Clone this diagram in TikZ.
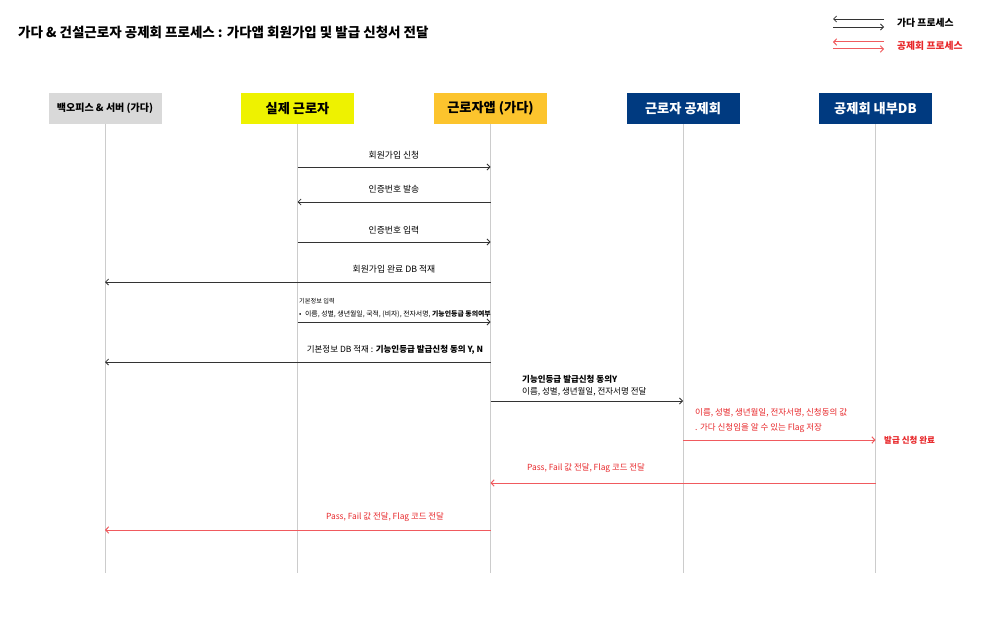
\documentclass[tikz,border=0pt]{standalone}
\usepackage{fontspec}
\setmainfont{Noto Sans CJK KR}
\usetikzlibrary{arrows.meta}
\definecolor{boxgray}{HTML}{D9D9D9}
\definecolor{boxyellow}{HTML}{EEF200}
\definecolor{boxorange}{HTML}{FCC42D}
\definecolor{navy}{HTML}{003A80}
\definecolor{lifegray}{HTML}{CCCCCC}
\definecolor{msgdark}{HTML}{333333}
\definecolor{redline}{HTML}{F05A5E}
\definecolor{redtext}{HTML}{E8272A}
\tikzset{
  hdr/.style={minimum width=113pt, minimum height=31pt, inner sep=0pt, font=\bfseries\fontsize{13.2}{15}\selectfont},
  life/.style={draw=lifegray, line width=0.8pt},
  msg/.style={draw=msgdark, line width=0.8pt, -{Straight Barb[length=3pt,width=6pt]}},
  redmsg/.style={draw=redline, line width=1pt, -{Straight Barb[length=3pt,width=6.5pt]}},
  lbl/.style={inner sep=0pt, font=\fontsize{8.8}{10}\selectfont, text=black},
  redlbl/.style={inner sep=0pt, font=\fontsize{8.4}{10}\selectfont, text=redtext},
}
\begin{document}
\begin{tikzpicture}[x=1pt,y=-1pt]
\useasboundingbox (0,0) rectangle (1000,618);
\fill[white] (0,0) rectangle (1000,618);

% title
\node[anchor=west, inner sep=0pt, font=\bfseries\fontsize{13.5}{15}\selectfont] (title) at (18,32) {가다 \& 건설근로자 공제회 프로세스 : 가다앱 회원가입 및 발급 신청서 전달};

% legend
\coordinate (lg1a) at (833,19); \coordinate (lg1b) at (884,19);
\coordinate (lg2a) at (833,27); \coordinate (lg2b) at (884,27);
\coordinate (lg3a) at (833,42); \coordinate (lg3b) at (884,42);
\coordinate (lg4a) at (833,49); \coordinate (lg4b) at (884,49);
\draw[msg] (lg1b) -- (lg1a);
\draw[msg] (lg2a) -- (lg2b);
\draw[redmsg] (lg3b) -- (lg3a);
\draw[redmsg] (lg4a) -- (lg4b);
\node[anchor=west, inner sep=0pt, font=\bfseries\fontsize{9.8}{11}\selectfont] (lgt1) at (897,23) {가다 프로세스};
\node[anchor=west, inner sep=0pt, font=\bfseries\fontsize{9.8}{11}\selectfont, text=redtext] (lgt2) at (897,45.5) {공제회 프로세스};

% headers
\node[hdr, fill=boxgray, font=\bfseries\fontsize{10}{11}\selectfont] (h1) at (105,108.5) {백오피스 \& 서버 (가다)};
\node[hdr, fill=boxyellow] (h2) at (297.5,108.5) {실제 근로자};
\node[hdr, fill=boxorange] (h3) at (490.5,108.5) {근로자앱 (가다)};
\node[hdr, fill=navy, text=white] (h4) at (683,108.5) {근로자 공제회};
\node[hdr, fill=navy, text=white] (h5) at (875.5,108.5) {공제회 내부DB};

% lifelines
\foreach \i in {1,...,5} {
  \coordinate (e\i) at (h\i.south |- 0,573);
  \draw[life] (h\i.south) -- (e\i);
}

% message 1
\coordinate (m1a) at (h2 |- 0,167); \coordinate (m1b) at (h3 |- 0,167);
\draw[msg] (m1a) -- (m1b);
\node[lbl] (t1) at (394,155) {회원가입 신청};
% message 2
\coordinate (m2a) at (h3 |- 0,202); \coordinate (m2b) at (h2 |- 0,202);
\draw[msg] (m2a) -- (m2b);
\node[lbl] (t2) at (394,189.5) {인증번호 발송};
% message 3
\coordinate (m3a) at (h2 |- 0,242); \coordinate (m3b) at (h3 |- 0,242);
\draw[msg] (m3a) -- (m3b);
\node[lbl] (t3) at (394,230) {인증번호 입력};
% message 4
\coordinate (m4a) at (h3 |- 0,282); \coordinate (m4b) at (h1 |- 0,282);
\draw[msg] (m4a) -- (m4b);
\node[lbl] (t4) at (394,269.5) {회원가입 완료 DB 적재};
% message 5
\node[anchor=west, inner sep=0pt, font=\fontsize{6.2}{7}\selectfont] (t5a) at (299,301) {기본정보 입력};
\node[anchor=west, inner sep=0pt, font=\fontsize{6.9}{8}\selectfont] (t5b) at (299,314) {•\hspace{2pt} 이름, 성별, 생년월일, 국적, (비자), 전자서명, \textbf{기능인등급 동의여부}};
\coordinate (m5a) at (h2 |- 0,322); \coordinate (m5b) at (h3 |- 0,322);
\draw[msg] (m5a) -- (m5b);
% message 6
\coordinate (m6a) at (h3 |- 0,362); \coordinate (m6b) at (h1 |- 0,362);
\draw[msg] (m6a) -- (m6b);
\node[lbl, font=\fontsize{8.5}{10}\selectfont] (t6) at (395,349.5) {기본정보 DB 적재 : \textbf{기능인등급 발급신청 동의 Y, N}};
% message 7
\node[lbl, anchor=west, font=\bfseries\fontsize{8.5}{9}\selectfont] (t7a) at (522,379) {기능인등급 발급신청 동의Y};
\node[lbl, anchor=west, font=\fontsize{8.5}{9}\selectfont] (t7b) at (522,392) {이름, 성별, 생년월일, 전자서명 전달};
\coordinate (m7a) at (h3 |- 0,401); \coordinate (m7b) at (h4 |- 0,401);
\draw[msg] (m7a) -- (m7b);
% message 8
\node[redlbl, anchor=west, font=\fontsize{8.5}{9}\selectfont] (t8a) at (695,413) {이름, 성별, 생년월일, 전자서명, 신청동의 값};
\node[redlbl, anchor=west, font=\fontsize{8.5}{9}\selectfont] (t8b) at (695,428) {. 가다 신청임을 알 수 있는 Flag 저장};
\coordinate (m8a) at (h4 |- 0,440); \coordinate (m8b) at (h5 |- 0,440);
\draw[redmsg] (m8a) -- (m8b);
\node[redlbl, anchor=west, font=\bfseries\fontsize{8.5}{9}\selectfont] (t8c) at (884,440) {발급 신청 완료};
% message 9
\coordinate (m9a) at (h5 |- 0,483); \coordinate (m9b) at (h3 |- 0,483);
\draw[redmsg] (m9a) -- (m9b);
\node[redlbl] (t9) at (586,468) {Pass, Fail 값 전달, Flag 코드 전달};
% message 10
\coordinate (m10a) at (h3 |- 0,530); \coordinate (m10b) at (h1 |- 0,530);
\draw[redmsg] (m10a) -- (m10b);
\node[redlbl] (t10) at (385,517.5) {Pass, Fail 값 전달, Flag 코드 전달};
\end{tikzpicture}
\end{document}
